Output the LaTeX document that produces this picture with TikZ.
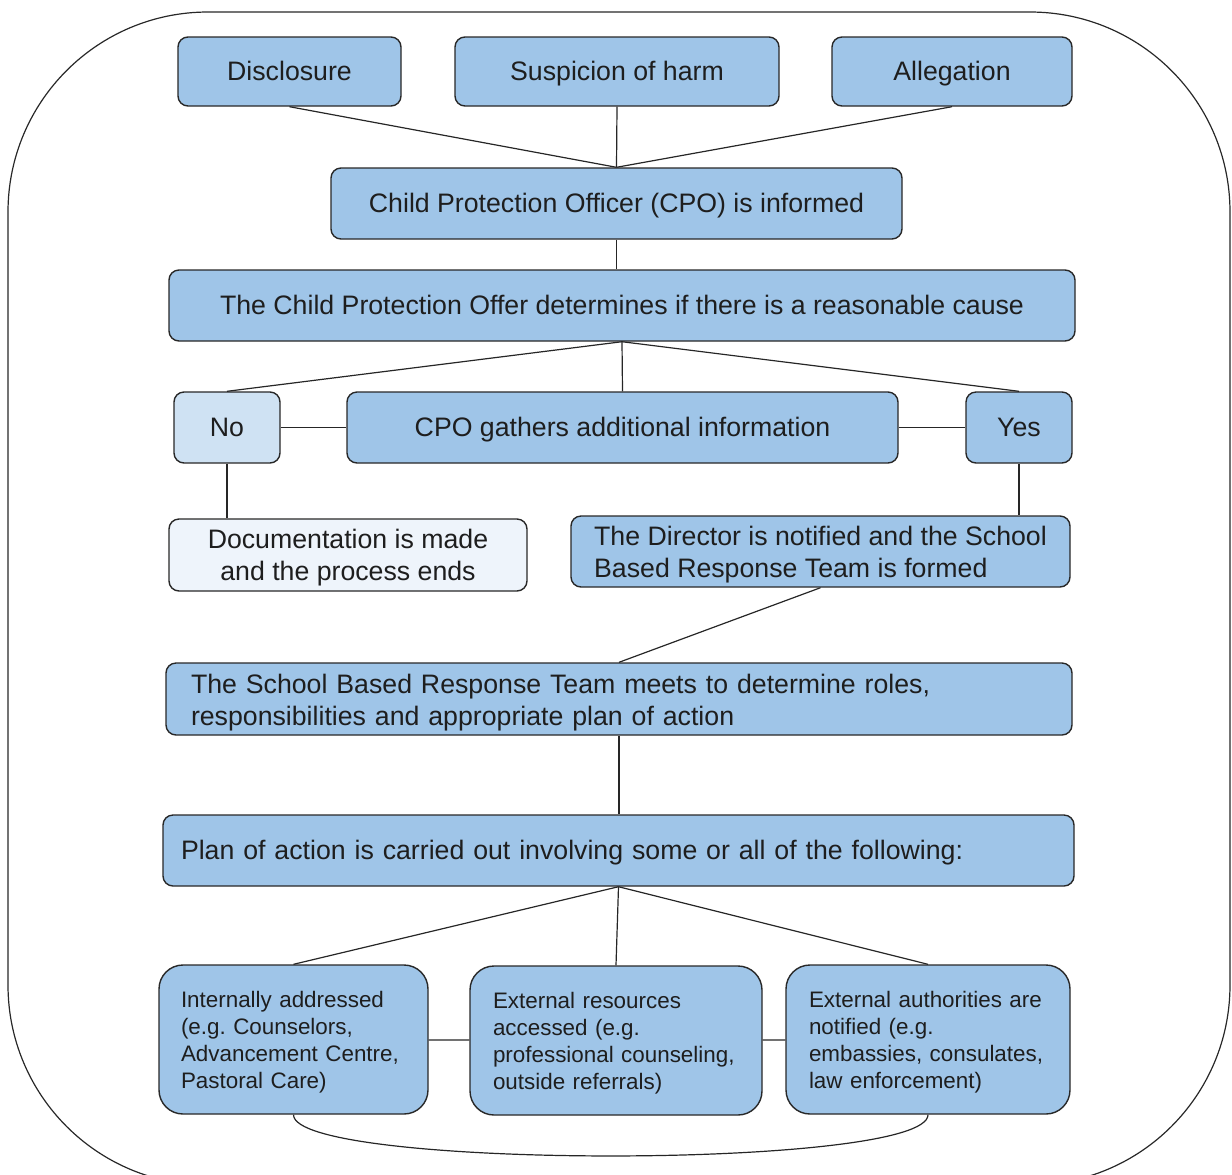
\documentclass[tikz,border=0pt]{standalone}
\usepackage{fontspec}
\setmainfont{Liberation Sans}
\frenchspacing
\definecolor{boxfill}{RGB}{159,197,232}
\definecolor{nofill}{RGB}{207,226,243}
\definecolor{docfill}{RGB}{238,244,251}
\definecolor{edge}{RGB}{40,40,40}
\definecolor{txt}{RGB}{30,30,30}

\begin{document}
\begin{tikzpicture}[x=0.5pt,y=-0.5pt,
  box/.style={draw=edge,line width=0.7pt,fill=boxfill,rounded corners=5pt,
    text=txt,inner sep=0pt,minimum height=35.5pt,align=center,
    font=\fontsize{13.35}{16}\selectfont},
  one/.style={text height=12.1pt,text depth=2.8pt},
  multi/.style={text depth=0pt},
  lbox/.style={box,align=left,inner xsep=#1},
  bigbox/.style={box,align=left,rounded corners=12pt,minimum height=74.5pt,
    inner xsep=11pt,text height=11.2pt,font=\fontsize{11.2}{13.5}\selectfont},
  link/.style={draw=black!85,line width=0.6pt}]
  \clip (0,0) rectangle (1232,1174);
  \def\r{100pt};
  % outer frame
  \draw[edge,line width=0.6pt,rounded corners=\r] (8,12) rectangle (1230,1185);
  % sources
  \node[box,one,minimum width=111.5pt,minimum height=34.5pt] (disc) at (289.5,71.5) {Disclosure};
  \node[box,one,minimum width=162pt,minimum height=34.5pt] (susp) at (617,71.5) {Suspicion of harm};
  \node[box,one,minimum width=120pt,minimum height=34.5pt] (alle) at (952,71.5) {Allegation};
  \node[box,one,minimum width=285.5pt] (cpo) at (616.5,203.5) {Child Protection Officer (CPO) is informed};
  \node[box,one,minimum width=453pt] (det) at (622,305.5) {The Child Protection Offer determines if there is a reasonable cause};
  % decision row
  \node[box,one,fill=nofill,minimum width=53pt] (no) at (227,427.5) {No};
  \node[box,one,minimum width=275.5pt] (gath) at (622.5,427.5) {CPO gathers additional information};
  \node[box,one,minimum width=53pt] (yes) at (1019,427.5) {Yes};
  \node[box,multi,fill=docfill,minimum width=179pt,minimum height=36pt] (doc) at (348,555) {Documentation is made\\and the process ends};
  \node[box,multi,align=left,minimum width=249.5pt] (dir) at (820.5,551.5) {The Director is notified and the School\\Based Response Team is formed};
  \node[lbox=12.5pt,text height=13.7pt,text width=428pt,minimum height=36pt] (meet) at (619,699) {The School Based Response Team meets to determine roles,\\responsibilities and appropriate plan of action};
  \node[lbox=9pt,one,text width=437.5pt] (plan) at (618.5,850.5) {Plan of action is carried out involving some or all of the following:};
  % outcomes
  \node[bigbox,text width=112.5pt] (intl) at (293.5,1039.5) {Internally addressed\\(e.g. Counselors,\\Advancement Centre,\\Pastoral Care)};
  \node[bigbox,inner xsep=11.5pt,text width=123pt] (eres) at (616,1040.5) {External resources\\accessed (e.g.\\professional counseling,\\outside referrals)};
  \node[bigbox,inner xsep=11.5pt,text width=119pt] (eaut) at (928,1039.5) {External authorities are\\notified (e.g.\\embassies, consulates,\\law enforcement)};
  % connectors
  \draw[link] (disc.south) -- (cpo.north);
  \draw[link] (susp.south) -- (cpo.north);
  \draw[link] (alle.south) -- (cpo.north);
  \draw[link] (cpo.south) -- (cpo.south |- det.north);
  \draw[link] (det.south) -- (no.north);
  \draw[link] (det.south) -- (gath.north);
  \draw[link] (det.south) -- (yes.north);
  \draw[link] (no) -- (gath);
  \draw[link] (gath) -- (yes);
  \draw[link] (no.south) -- (no.south |- doc.north);
  \draw[link] (yes.south) -- (yes.south |- dir.north);
  \draw[link] (dir.south) -- (meet.north);
  \draw[link] (meet.south) -- (meet.south |- plan.north);
  \draw[link] (plan.south) -- (intl.north);
  \draw[link] (plan.south) -- (eres.north);
  \draw[link] (plan.south) -- (eaut.north);
  \draw[link] (intl) -- (eres);
  \draw[link] (eres) -- (eaut);
  \draw[link] (intl.south) .. controls +(0,55) and +(0,55) .. (eaut.south);
\end{tikzpicture}
\end{document}
